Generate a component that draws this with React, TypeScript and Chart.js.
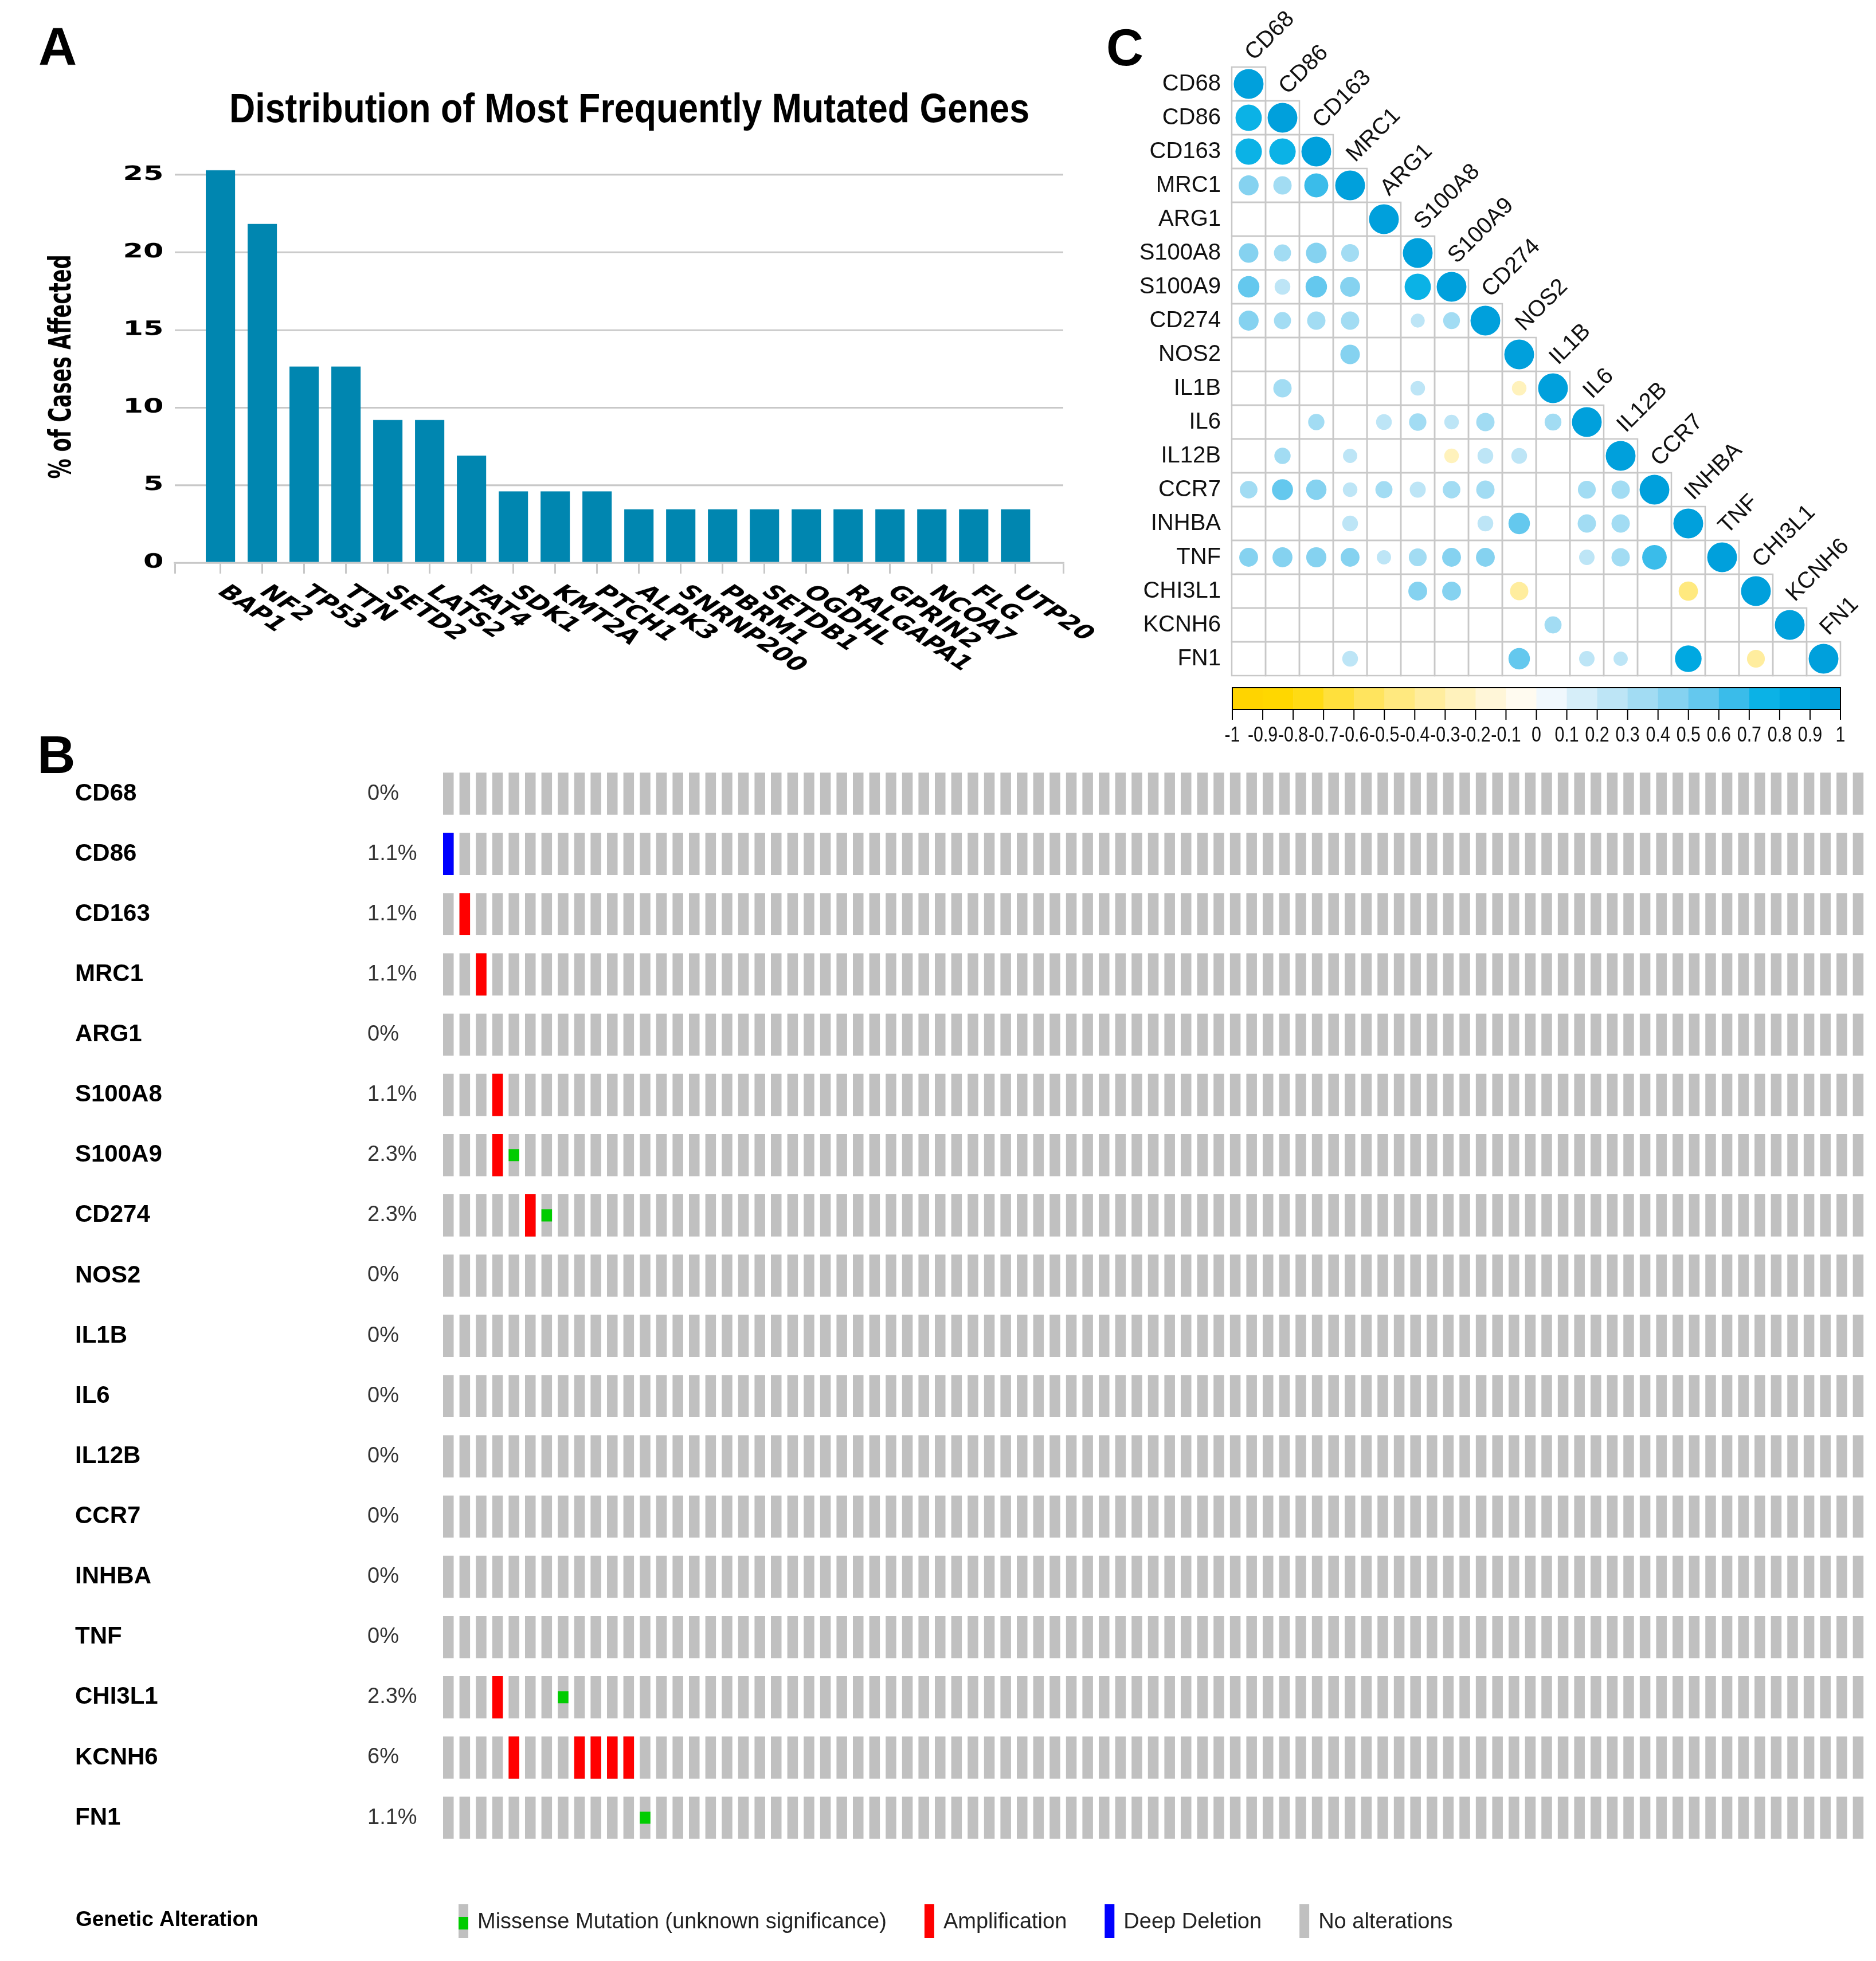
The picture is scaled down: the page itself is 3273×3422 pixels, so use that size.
import React, { useEffect, useRef } from "react";
import { Chart, registerables } from "chart.js";

Chart.register(...registerables);

// ---------------- Panel A data ----------------
const mutGenes = ["BAP1", "NF2", "TP53", "TTN", "SETD2", "LATS2", "FAT4", "SDK1", "KMT2A", "PTCH1", "ALPK3", "SNRNP200", "PBRM1", "SETDB1", "OGDHL", "RALGAPA1", "GPRIN2", "NCOA7", "FLG", "UTP20"];
const mutPct = [25.29, 21.84, 12.64, 12.64, 9.2, 9.2, 6.9, 4.6, 4.6, 4.6, 3.45, 3.45, 3.45, 3.45, 3.45, 3.45, 3.45, 3.45, 3.45, 3.45];
const mutYMax = 26;
const mutYStep = 5;
const mutTitle = "Distribution of Most Frequently Mutated Genes";
const mutYTitle = "% of Cases Affected";

// ---------------- Panel B data ----------------
const oncoGenes = ["CD68", "CD86", "CD163", "MRC1", "ARG1", "S100A8", "S100A9", "CD274", "NOS2", "IL1B", "IL6", "IL12B", "CCR7", "INHBA", "TNF", "CHI3L1", "KCNH6", "FN1"];
const oncoPct = ["0%", "1.1%", "1.1%", "1.1%", "0%", "1.1%", "2.3%", "2.3%", "0%", "0%", "0%", "0%", "0%", "0%", "0%", "2.3%", "6%", "1.1%"];
const SAMPLE_COUNT = 87;
const sampleIds = Array.from({ length: SAMPLE_COUNT }, (_, i) => `S${i + 1}`);
const amplification: [string, number][] = [
  ["CD163", 1], ["MRC1", 2], ["S100A8", 3], ["S100A9", 3], ["CD274", 5], ["CHI3L1", 3],
  ["KCNH6", 4], ["KCNH6", 8], ["KCNH6", 9], ["KCNH6", 10], ["KCNH6", 11],
];
const deepDeletion: [string, number][] = [["CD86", 0]];
const missense: [string, number][] = [["S100A9", 4], ["CD274", 6], ["CHI3L1", 7], ["FN1", 12]];
const legendTitle = "Genetic Alteration";
const legendLabels = ["Missense Mutation (unknown significance)", "Amplification", "Deep Deletion", "No alterations"];

// ---------------- Panel C data ----------------
const corrGenes = ["CD68", "CD86", "CD163", "MRC1", "ARG1", "S100A8", "S100A9", "CD274", "NOS2", "IL1B", "IL6", "IL12B", "CCR7", "INHBA", "TNF", "CHI3L1", "KCNH6", "FN1"];
// [row, col, r] significant off-diagonal correlations (lower triangle)
const corrValues: [number, number, number][] = [
  [1, 0, 0.78],
  [2, 0, 0.79], [2, 1, 0.79],
  [3, 0, 0.45], [3, 1, 0.38], [3, 2, 0.65],
  [5, 0, 0.43], [5, 1, 0.33], [5, 2, 0.48], [5, 3, 0.36],
  [6, 0, 0.52], [6, 1, 0.28], [6, 2, 0.52], [6, 3, 0.45], [6, 5, 0.78],
  [7, 0, 0.45], [7, 1, 0.33], [7, 2, 0.38], [7, 3, 0.38], [7, 5, 0.22], [7, 6, 0.32],
  [8, 3, 0.43],
  [9, 1, 0.38], [9, 5, 0.24], [9, 8, -0.24],
  [10, 2, 0.3], [10, 4, 0.28], [10, 5, 0.34], [10, 6, 0.24], [10, 7, 0.38], [10, 9, 0.32],
  [11, 1, 0.3], [11, 3, 0.23], [11, 6, -0.24], [11, 7, 0.28], [11, 8, 0.28],
  [12, 0, 0.35], [12, 1, 0.5], [12, 2, 0.47], [12, 3, 0.24], [12, 4, 0.33], [12, 5, 0.29], [12, 6, 0.35], [12, 7, 0.38], [12, 10, 0.36], [12, 11, 0.38],
  [13, 3, 0.28], [13, 7, 0.28], [13, 8, 0.52], [13, 10, 0.38], [13, 11, 0.38],
  [14, 0, 0.4], [14, 1, 0.45], [14, 2, 0.46], [14, 3, 0.4], [14, 4, 0.23], [14, 5, 0.36], [14, 6, 0.4], [14, 7, 0.4], [14, 10, 0.27], [14, 11, 0.38], [14, 12, 0.68],
  [15, 5, 0.4], [15, 6, 0.4], [15, 8, -0.38], [15, 13, -0.42],
  [16, 9, 0.33],
  [17, 3, 0.28], [17, 8, 0.52], [17, 10, 0.27], [17, 11, 0.23], [17, 13, 0.8], [17, 15, -0.36],
];
const corrPalette = [
  "#FFD400", "#FFD700", "#FFDB14", "#FFE03C", "#FFE45E", "#FFE97F", "#FFED9E", "#FFF2BC", "#FFF6D8", "#FFFBF0",
  "#F0F8FD", "#D6EEF9", "#BDE5F6", "#A2DCF3", "#85D2F0", "#64C8EE", "#3ABCEA", "#0BB2E6", "#00A8E1", "#00A0DC",
];
const colorbarLabels = ["-1", "-0.9", "-0.8", "-0.7", "-0.6", "-0.5", "-0.4", "-0.3", "-0.2", "-0.1", "0", "0.1", "0.2", "0.3", "0.4", "0.5", "0.6", "0.7", "0.8", "0.9", "1"];

// ---------------- styles ----------------
const SANS = '"Liberation Sans", Arial, sans-serif';
const VERD = '"DejaVu Sans", Verdana, sans-serif';
const BAR_BLUE = "#0086B0";
const GRID_GRAY = "#C8C8C8";
const ONCO_GRAY = "#C0C0C0";
const AMP_RED = "#FF0000";
const DEL_BLUE = "#0000FF";
const MIS_GREEN = "#00CC00";
const STRETCH_A = 1.5;
const A_WIDTH = 1310;

function corrColor(v: number) {
  const idx = Math.min(corrPalette.length - 1, Math.max(0, Math.floor((v + 1) * 10 + 1e-9)));
  return corrPalette[idx];
}

function PanelA() {
  const ref = useRef<HTMLCanvasElement>(null);
  useEffect(() => {
    if (!ref.current) return;
    const textPlugin = {
      id: "panelAText",
      afterDraw(chart: any) {
        const { ctx, chartArea } = chart;
        const xs = chart.scales.x;
        ctx.save();
        ctx.fillStyle = "#000";
        // rotated category labels (reading downwards to the right)
        ctx.font = `bold 33px ${VERD}`;
        ctx.textAlign = "left";
        ctx.textBaseline = "middle";
        const ly = chartArea.bottom + 46;
        mutGenes.forEach((g, i) => {
          const px = xs.getPixelForValue(i);
          ctx.save();
          ctx.translate(px + 1, ly);
          ctx.rotate(Math.PI / 4);
          ctx.fillText(g, 0, 0);
          ctx.restore();
        });
        // y axis title
        ctx.save();
        ctx.font = `bold 35px ${VERD}`;
        ctx.textAlign = "center";
        ctx.textBaseline = "middle";
        ctx.translate(109 / STRETCH_A, 640);
        ctx.rotate(-Math.PI / 2);
        ctx.fillText(mutYTitle, 0, 0);
        ctx.restore();
        // title (counter-scaled against the horizontal stretch)
        ctx.save();
        ctx.font = `bold 72px ${SANS}`;
        const tw = ctx.measureText(mutTitle).width;
        ctx.translate(1098 / STRETCH_A, 213);
        ctx.scale(1396 / STRETCH_A / tw, 1);
        ctx.textAlign = "center";
        ctx.textBaseline = "alphabetic";
        ctx.fillText(mutTitle, 0, 0);
        ctx.restore();
        // panel letter
        ctx.save();
        ctx.font = `bold 93px ${SANS}`;
        ctx.translate(67 / STRETCH_A, 113);
        ctx.scale(1 / STRETCH_A, 1);
        ctx.textAlign = "left";
        ctx.textBaseline = "alphabetic";
        ctx.fillText("A", 0, 0);
        ctx.restore();
        ctx.restore();
      },
    };
    const xTickVals = [-1.09, ...mutGenes.map((_, i) => i), 20.14];
    const chart = new Chart(ref.current, {
      type: "bar",
      data: {
        datasets: [
          {
            data: mutPct.map((v, i) => ({ x: i, y: v })),
            backgroundColor: BAR_BLUE,
            borderWidth: 0,
            barPercentage: 0.7,
            categoryPercentage: 1,
          } as any,
        ],
      },
      options: {
        animation: false,
        responsive: true,
        maintainAspectRatio: false,
        devicePixelRatio: 1.5,
        layout: { padding: { left: 0, right: A_WIDTH - 1855 / STRETCH_A, top: 278, bottom: 258 } },
        plugins: { legend: { display: false }, tooltip: { enabled: false }, title: { display: false } },
        scales: {
          x: {
            type: "linear",
            offset: false,
            min: -1.09,
            max: 20.14,
            afterBuildTicks: (s: any) => {
              s.ticks = xTickVals.map((v) => ({ value: v }));
            },
            afterFit: (s: any) => {
              s.height = 0;
            },
            ticks: { display: false },
            grid: { offset: false, drawOnChartArea: false, drawTicks: true, tickLength: 19, color: GRID_GRAY, lineWidth: 2 },
            border: { display: true, color: GRID_GRAY, width: 3 },
          },
          y: {
            min: 0,
            max: mutYMax,
            afterFit: (s: any) => {
              s.width = 305 / STRETCH_A;
            },
            ticks: {
              stepSize: mutYStep,
              includeBounds: false,
              padding: 13,
              color: "#000",
              font: { family: VERD, weight: "bold", size: 34 },
            },
            grid: { color: GRID_GRAY, lineWidth: 3, drawTicks: false },
            border: { display: false },
          },
        },
      } as any,
      plugins: [textPlugin],
    });
    return () => chart.destroy();
  }, []);
  return (
    <div style={{ position: "absolute", left: 0, top: 0, width: A_WIDTH, height: 1240, transform: `scaleX(${STRETCH_A})`, transformOrigin: "0 0" }}>
      <canvas ref={ref} style={{ display: "block" }} />
    </div>
  );
}

function PanelB() {
  const ref = useRef<HTMLCanvasElement>(null);
  useEffect(() => {
    if (!ref.current) return;
    const rowOf = (g: string) => oncoGenes.indexOf(g);
    const FULL = 0.35;
    const SMALL = 0.1;
    const textPlugin = {
      id: "oncoText",
      afterDraw(chart: any) {
        const { ctx, chartArea } = chart;
        const y = chart.scales.y;
        ctx.save();
        ctx.textAlign = "left";
        ctx.textBaseline = "middle";
        oncoGenes.forEach((g, i) => {
          const py = y.getPixelForValue(i);
          ctx.fillStyle = "#000";
          ctx.font = `bold 42px ${SANS}`;
          ctx.fillText(g, 131, py);
          ctx.fillStyle = "#333";
          ctx.font = `38px ${SANS}`;
          ctx.fillText(oncoPct[i], 641, py);
        });
        // panel letter
        ctx.fillStyle = "#000";
        ctx.font = `bold 92px ${SANS}`;
        ctx.textBaseline = "alphabetic";
        ctx.fillText("B", 65, 109);
        // legend
        const cb = chartArea.bottom;
        const sTop = cb + 98.4;
        const sH = 59;
        const sW = 17;
        const midY = cb + 126;
        ctx.textBaseline = "middle";
        ctx.font = `bold 37px ${SANS}`;
        ctx.fillStyle = "#000";
        ctx.fillText(legendTitle, 132, midY);
        ctx.font = `38px ${SANS}`;
        const swatchColors = [ONCO_GRAY, AMP_RED, DEL_BLUE, ONCO_GRAY];
        let x = 800;
        legendLabels.forEach((lab, k) => {
          ctx.fillStyle = swatchColors[k];
          ctx.fillRect(x, sTop, sW, sH);
          if (k === 0) {
            ctx.fillStyle = MIS_GREEN;
            ctx.fillRect(x, sTop + 22, sW, 22);
          }
          ctx.fillStyle = "#222";
          ctx.fillText(lab, x + 33, midY + 4);
          x = x + 33 + ctx.measureText(lab).width + 66;
        });
        ctx.restore();
      },
    };
    const grayData: any[] = [];
    oncoGenes.forEach((g, r) => {
      sampleIds.forEach((s) => grayData.push({ x: s, y: [r - FULL, r + FULL] }));
    });
    const chart = new Chart(ref.current, {
      type: "bar",
      data: {
        labels: sampleIds,
        datasets: [
          { label: legendLabels[0], data: missense.map(([g, s]) => ({ x: sampleIds[s], y: [rowOf(g) - SMALL, rowOf(g) + SMALL] })), backgroundColor: MIS_GREEN },
          { label: legendLabels[1], data: amplification.map(([g, s]) => ({ x: sampleIds[s], y: [rowOf(g) - FULL, rowOf(g) + FULL] })), backgroundColor: AMP_RED },
          { label: legendLabels[2], data: deepDeletion.map(([g, s]) => ({ x: sampleIds[s], y: [rowOf(g) - FULL, rowOf(g) + FULL] })), backgroundColor: DEL_BLUE },
          { label: legendLabels[3], data: grayData, backgroundColor: ONCO_GRAY },
        ] as any,
      },
      options: {
        animation: false,
        responsive: true,
        maintainAspectRatio: false,
        layout: { padding: { left: 767.95, right: 3273 - 3256.2, top: 92.5, bottom: 197.4 } },
        datasets: { bar: { grouped: false, barPercentage: 0.647, categoryPercentage: 1, borderWidth: 0 } },
        plugins: { legend: { display: false }, tooltip: { enabled: false } },
        scales: {
          x: { type: "category", display: false, offset: true },
          y: { type: "linear", display: false, reverse: true, min: -0.5, max: oncoGenes.length - 0.5 },
        },
      } as any,
      plugins: [textPlugin],
    });
    return () => chart.destroy();
  }, []);
  return (
    <div style={{ position: "absolute", left: 0, top: 1240, width: 3273, height: 2182 }}>
      <canvas ref={ref} style={{ display: "block" }} />
    </div>
  );
}

function PanelC() {
  const ref = useRef<HTMLCanvasElement>(null);
  useEffect(() => {
    if (!ref.current) return;
    const n = corrGenes.length;
    const cells = [
      ...corrGenes.map((_, i) => ({ x: i, y: i, v: 1 })),
      ...corrValues.map(([r, c, v]) => ({ x: c, y: r, v })),
    ];
    const decor = {
      id: "corrDecor",
      beforeDatasetsDraw(chart: any) {
        const { ctx } = chart;
        const xs = chart.scales.x;
        const ys = chart.scales.y;
        ctx.save();
        ctx.strokeStyle = GRID_GRAY;
        ctx.lineWidth = 2.5;
        for (let i = 0; i < n; i++) {
          for (let j = 0; j <= i; j++) {
            const x0 = xs.getPixelForValue(j - 0.5);
            const x1 = xs.getPixelForValue(j + 0.5);
            const y0 = ys.getPixelForValue(i - 0.5);
            const y1 = ys.getPixelForValue(i + 0.5);
            ctx.strokeRect(x0, y0, x1 - x0, y1 - y0);
          }
        }
        ctx.restore();
      },
      afterDraw(chart: any) {
        const { ctx, chartArea } = chart;
        const xs = chart.scales.x;
        const ys = chart.scales.y;
        ctx.save();
        ctx.fillStyle = "#111";
        ctx.font = `40px ${SANS}`;
        // row labels
        ctx.textAlign = "right";
        ctx.textBaseline = "middle";
        corrGenes.forEach((g, i) => {
          ctx.fillText(g, chartArea.left - 19, ys.getPixelForValue(i));
        });
        // column labels, rotated
        ctx.textAlign = "left";
        ctx.textBaseline = "alphabetic";
        corrGenes.forEach((g, j) => {
          const cx = xs.getPixelForValue(j);
          const top = ys.getPixelForValue(j - 0.5);
          ctx.save();
          ctx.translate(cx + 9, top - 10);
          ctx.rotate(-Math.PI / 4);
          ctx.fillText(g, 0, 0);
          ctx.restore();
        });
        // colour bar
        const left = chartArea.left + 1;
        const right = chartArea.right;
        const top = chartArea.bottom + 21;
        const h = 38;
        const w = (right - left) / corrPalette.length;
        corrPalette.forEach((c, k) => {
          ctx.fillStyle = c;
          ctx.fillRect(left + k * w, top, w + 0.6, h);
        });
        ctx.strokeStyle = "#000";
        ctx.lineWidth = 2;
        ctx.strokeRect(left, top, right - left, h);
        ctx.fillStyle = "#111";
        ctx.font = `37px ${SANS}`;
        ctx.textAlign = "center";
        ctx.textBaseline = "middle";
        colorbarLabels.forEach((lab, k) => {
          const tx = left + k * w;
          ctx.beginPath();
          ctx.moveTo(tx, top + h);
          ctx.lineTo(tx, top + h + 18);
          ctx.stroke();
          ctx.save();
          ctx.translate(tx, top + h + 46);
          ctx.scale(0.82, 1);
          ctx.fillText(lab, 0, 0);
          ctx.restore();
        });
        // panel letter
        ctx.fillStyle = "#000";
        ctx.font = `bold 90px ${SANS}`;
        ctx.textAlign = "left";
        ctx.textBaseline = "alphabetic";
        ctx.fillText("C", 30, 114);
        ctx.restore();
      },
    };
    const chart = new Chart(ref.current, {
      type: "scatter",
      data: {
        datasets: [
          {
            data: cells,
            pointRadius: (c: any) => {
              const ca = c.chart.chartArea;
              if (!ca || !c.raw) return 0;
              const cell = (ca.right - ca.left) / n;
              return cell * 0.44 * Math.sqrt(Math.abs(c.raw.v));
            },
            pointBackgroundColor: (c: any) => (c.raw ? corrColor(c.raw.v) : "#fff"),
            pointBorderWidth: 0,
            pointHoverRadius: 0,
          } as any,
        ],
      },
      options: {
        animation: false,
        responsive: true,
        maintainAspectRatio: false,
        layout: { padding: { left: 249, right: 62, top: 117, bottom: 161 } },
        plugins: { legend: { display: false }, tooltip: { enabled: false } },
        scales: {
          x: { type: "linear", display: false, min: -0.5, max: n - 0.5 },
          y: { type: "linear", display: false, reverse: true, min: -0.5, max: n - 0.5 },
        },
      } as any,
      plugins: [decor],
    });
    return () => chart.destroy();
  }, []);
  return (
    <div style={{ position: "absolute", left: 1900, top: 0, width: 1373, height: 1340 }}>
      <canvas ref={ref} style={{ display: "block" }} />
    </div>
  );
}

export default function App() {
  useEffect(() => {
    document.body.style.margin = "0";
    document.body.style.background = "#fff";
  }, []);
  return (
    <div style={{ position: "absolute", left: 0, top: 0, width: 3273, height: 3422, background: "#fff", overflow: "hidden" }}>
      <PanelA />
      <PanelB />
      <PanelC />
    </div>
  );
}
